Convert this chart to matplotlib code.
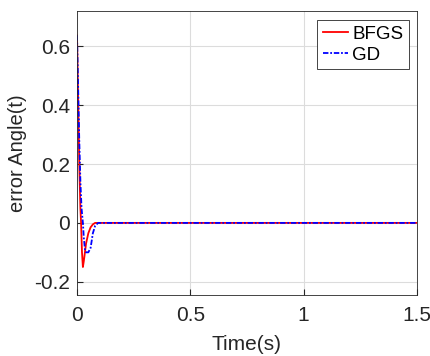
import matplotlib
matplotlib.use("Agg")
import matplotlib.pyplot as plt

# error angle response
t_bfgs = [0, 0.005, 0.01, 0.015, 0.018, 0.022, 0.026, 0.03, 0.035, 0.04, 0.05, 0.06, 0.07, 0.08, 1.5]
e_bfgs = [0.637, 0.42, 0.2, 0.05, 0.0, -0.1, -0.15, -0.13, -0.1, -0.07, -0.035, -0.015, -0.005, 0, 0]
t_gd = [0, 0.005, 0.01, 0.015, 0.02, 0.026, 0.03, 0.035, 0.04, 0.05, 0.06, 0.065, 0.07, 0.08, 0.093, 1.5]
e_gd = [0.637, 0.46, 0.28, 0.14, 0.05, 0.0, -0.05, -0.09, -0.1, -0.1, -0.085, -0.06, -0.035, -0.01, 0, 0]

plt.rcParams["font.family"] = ["Liberation Sans", "DejaVu Sans"]

fig = plt.figure(figsize=(4.31, 3.56), dpi=100)
ax = fig.add_axes([77 / 431, 61 / 356, 340 / 431, 284 / 356])

ax.plot(t_bfgs, e_bfgs, color="#ff0000", linewidth=1.3, label="BFGS")
ax.plot(t_gd, e_gd, color="#0000ff", linewidth=1.3, linestyle=(0, (3, 1, 1, 1)), label="GD")

ax.set_xlim(0, 1.5)
ax.set_ylim(-0.245, 0.72)
ax.set_xticks([0, 0.5, 1, 1.5])
ax.set_xticklabels(["0", "0.5", "1", "1.5"])
ax.set_yticks([-0.2, 0, 0.2, 0.4, 0.6])
ax.set_yticklabels(["-0.2", "0", "0.2", "0.4", "0.6"])
ax.tick_params(direction="in", labelsize=15, colors="#262626", length=4)
ax.tick_params(axis="x", pad=8)
ax.tick_params(axis="y", pad=5)
ax.grid(color="#dcdcdc", linewidth=0.8)
for spine in ax.spines.values():
    spine.set_color("#262626")
    spine.set_linewidth(0.6)

ax.set_xlabel("Time(s)", fontsize=15, color="#262626", labelpad=7)
ax.set_ylabel("error Angle(t)", fontsize=14.5, color="#262626", labelpad=5)

leg = ax.legend(loc="upper right", bbox_to_anchor=(0.976, 0.968), fontsize=13.5,
                fancybox=False, framealpha=1, edgecolor="#262626",
                handlelength=1.35, handletextpad=0.2, borderaxespad=0,
                borderpad=0.3, labelspacing=0.2)
leg.get_frame().set_linewidth(0.6)

fig.savefig("out.png", dpi=100)
